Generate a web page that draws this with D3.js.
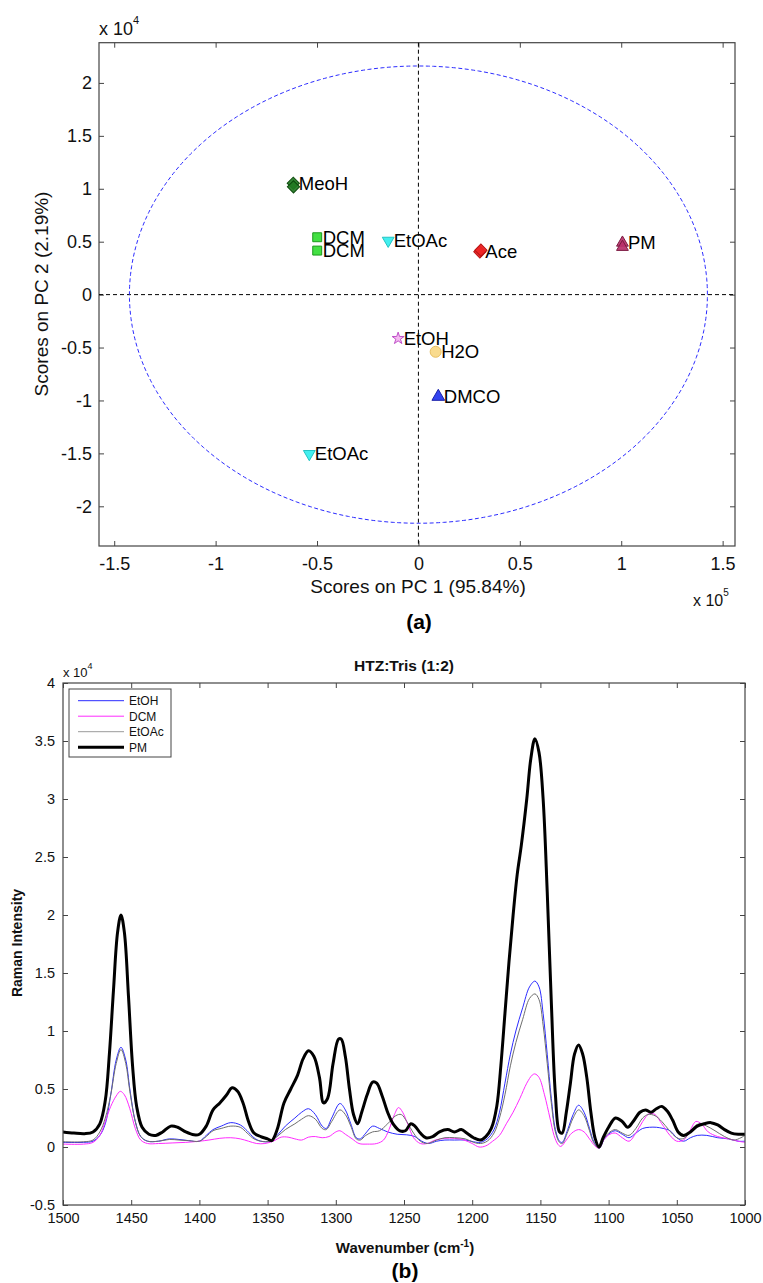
<!DOCTYPE html>
<html>
<head>
<meta charset="utf-8">
<script src="https://cdn.jsdelivr.net/npm/d3@7"></script>
<style>
  html, body { margin: 0; padding: 0; background: #fff; }
  svg { display: block; font-family: "Liberation Sans", Arial, sans-serif; }
</style>
</head>
<body>
<svg id="fig" width="763" height="1283"></svg>
<script>
// ---------- (a) PCA score plot ----------
const sampleNames = ["MeoH", "MeoH", "DCM", "DCM", "EtOAc", "Ace", "Ace", "PM", "PM", "EtOH", "H2O", "DMCO", "EtOAc"];
const sampleLabelled = [true, false, true, true, true, true, false, true, false, true, true, true, true];
const pc1Scores = [-61700, -61600, -49900, -49900, -14900, 30300, 30800, 100600, 100600, -10000, 8500, 9800, -53800];
const pc2Scores = [10520, 10180, 5420, 4160, 5100, 4040, 4200, 4900, 4500, -4140, -5400, -9640, -15050];
const pc1Ticks = [-150000, -100000, -50000, 0, 50000, 100000, 150000];
const pc2Ticks = [-20000, -15000, -10000, -5000, 0, 5000, 10000, 15000, 20000];
const confidenceRadii = [142500, 21600]; // 95% limit ellipse semi-axes (PC1, PC2)

// ---------- (b) Raman spectra, intensity in units of 10^4 ----------
const wavenumberTicks = [1500, 1450, 1400, 1350, 1300, 1250, 1200, 1150, 1100, 1050, 1000];
const intensityTicks = [-0.5, 0, 0.5, 1, 1.5, 2, 2.5, 3, 3.5, 4];
const seriesNames = ["EtOH", "DCM", "EtOAc", "PM"];

const etohWave = [1500,1485,1478,1473,1469,1465,1461,1457.5,1454,1451,1447,1443,1438,1430,1422,1415,1408,1400,1395,1390,1384,1377,1370,1365,1360,1355,1348,1343,1337,1330,1325,1320,1315,1310,1307,1303,1297,1293,1289,1285,1282,1278,1273,1268,1262,1255,1248,1242,1237,1232,1226,1220,1213,1205,1199,1194,1189,1184,1180,1176,1172,1168,1163,1158,1154,1151,1148,1145,1142,1139,1136,1134,1130,1126,1122,1118,1114,1111,1107,1103,1099,1095,1090,1085,1080,1075,1070,1065,1060,1055,1050,1045,1040,1035,1028,1020,1012,1005,1000];
const etohInt = [0.04,0.04,0.05,0.1,0.2,0.45,0.75,0.86,0.75,0.5,0.22,0.09,0.05,0.05,0.07,0.065,0.055,0.05,0.1,0.15,0.18,0.21,0.19,0.14,0.08,0.05,0.05,0.1,0.18,0.25,0.3,0.33,0.28,0.18,0.16,0.25,0.375,0.32,0.2,0.08,0.07,0.12,0.18,0.16,0.13,0.11,0.105,0.09,0.05,0.03,0.05,0.06,0.06,0.06,0.045,0.04,0.07,0.15,0.3,0.55,0.8,1.0,1.2,1.38,1.43,1.38,1.15,0.8,0.42,0.15,0.05,0.04,0.15,0.28,0.36,0.3,0.16,0.05,-0.01,0.07,0.12,0.14,0.11,0.08,0.12,0.16,0.17,0.17,0.16,0.14,0.08,0.05,0.08,0.1,0.1,0.08,0.07,0.05,0.05];

const dcmWave = [1500,1485,1478,1473,1469,1465,1461,1458,1455,1451,1447,1443,1438,1430,1420,1410,1400,1393,1385,1377,1370,1364,1358,1352,1346,1340,1335,1330,1325,1320,1315,1310,1305,1300,1297,1293,1288,1283,1277,1270,1265,1261,1257,1254,1251,1247,1243,1238,1233,1227,1220,1213,1206,1200,1195,1190,1185,1180,1175,1170,1165,1160,1156,1154,1151,1147,1143,1140,1137,1135,1131,1127,1122,1118,1114,1110,1107,1103,1099,1095,1090,1085,1080,1075,1070,1066,1061,1055,1050,1045,1040,1036,1032,1027,1020,1012,1005,1000];
const dcmInt = [0.025,0.025,0.04,0.1,0.22,0.35,0.44,0.48,0.45,0.33,0.16,0.06,0.03,0.03,0.035,0.04,0.05,0.06,0.075,0.08,0.07,0.05,0.03,0.03,0.05,0.085,0.085,0.07,0.06,0.085,0.09,0.08,0.09,0.13,0.14,0.11,0.07,0.03,0.025,0.03,0.06,0.15,0.28,0.34,0.3,0.19,0.08,0.03,0.03,0.06,0.075,0.075,0.06,0.03,0.0,0.01,0.05,0.1,0.2,0.3,0.42,0.55,0.62,0.63,0.6,0.45,0.25,0.1,0.02,0.005,0.06,0.12,0.15,0.13,0.07,0.01,-0.01,0.07,0.11,0.12,0.08,0.05,0.12,0.22,0.29,0.28,0.2,0.1,0.05,0.06,0.15,0.22,0.2,0.13,0.09,0.07,0.05,0.04];

const etoacWave = [1500,1485,1478,1473,1469,1465,1461,1457.5,1454,1451,1447,1443,1438,1430,1422,1415,1408,1400,1395,1390,1384,1377,1370,1365,1360,1355,1348,1343,1337,1330,1325,1320,1315,1310,1307,1303,1297,1293,1289,1285,1282,1278,1273,1268,1262,1256,1252,1248,1243,1238,1233,1226,1220,1213,1205,1199,1194,1189,1184,1180,1176,1172,1168,1163,1158,1154,1151,1148,1145,1142,1139,1136,1134,1130,1126,1122,1118,1114,1111,1107,1103,1099,1095,1090,1085,1080,1075,1071,1066,1061,1056,1050,1046,1042,1037,1033,1028,1022,1015,1008,1003,1000];
const etoacInt = [0.045,0.045,0.06,0.13,0.25,0.45,0.72,0.84,0.72,0.48,0.22,0.09,0.05,0.05,0.065,0.06,0.055,0.05,0.09,0.14,0.16,0.18,0.17,0.12,0.07,0.05,0.05,0.09,0.15,0.2,0.24,0.27,0.24,0.16,0.15,0.22,0.32,0.28,0.18,0.07,0.06,0.1,0.13,0.14,0.2,0.27,0.28,0.22,0.12,0.05,0.03,0.06,0.08,0.08,0.07,0.04,0.03,0.05,0.12,0.25,0.45,0.7,0.9,1.1,1.28,1.32,1.27,1.05,0.72,0.38,0.13,0.04,0.03,0.13,0.25,0.32,0.27,0.14,0.04,-0.01,0.08,0.13,0.15,0.12,0.1,0.16,0.25,0.28,0.27,0.22,0.15,0.08,0.07,0.1,0.18,0.2,0.18,0.14,0.09,0.06,0.08,0.1];

const pmWave = [1500,1492,1484,1478,1473,1469,1466,1463,1460,1457.5,1455,1452,1449,1446,1442,1437,1432,1427,1421,1416,1410,1404,1400,1395,1390,1385,1380,1376,1372,1368,1364,1360,1355,1350,1347,1343,1338,1333,1328,1324,1320,1316,1312,1309,1306,1302,1298,1296,1293,1290,1287,1284,1281,1277,1273,1270,1266,1262,1258,1253,1249,1245,1242,1238,1234,1229,1224,1218,1213,1208,1204,1199,1194,1190,1186,1182,1179,1176,1173,1170,1167,1164,1160,1157,1154,1151,1148,1145,1142,1139,1136,1134,1131,1128,1125,1122,1119,1116,1113,1110,1107,1104,1100,1095,1090,1086,1082,1077,1073,1069,1065,1061,1057,1053,1049,1045,1040,1035,1030,1025,1020,1015,1010,1005,1000];
const pmInt = [0.13,0.12,0.115,0.13,0.2,0.4,0.8,1.35,1.85,2.0,1.85,1.3,0.7,0.35,0.17,0.11,0.1,0.13,0.18,0.17,0.13,0.105,0.11,0.18,0.32,0.38,0.45,0.51,0.48,0.38,0.22,0.12,0.09,0.07,0.055,0.15,0.38,0.5,0.62,0.76,0.83,0.78,0.6,0.38,0.42,0.72,0.93,0.93,0.78,0.5,0.28,0.2,0.3,0.45,0.56,0.55,0.44,0.3,0.2,0.14,0.14,0.2,0.18,0.12,0.08,0.09,0.13,0.15,0.13,0.15,0.12,0.08,0.06,0.09,0.16,0.35,0.7,1.15,1.6,2.0,2.35,2.6,3.0,3.35,3.52,3.4,3.0,2.2,1.25,0.45,0.13,0.12,0.3,0.55,0.8,0.88,0.8,0.6,0.3,0.08,0.0,0.08,0.17,0.25,0.22,0.17,0.22,0.3,0.32,0.3,0.33,0.35,0.31,0.23,0.13,0.1,0.13,0.18,0.2,0.21,0.19,0.15,0.12,0.11,0.11];

const svg = d3.select("#fig");
const axisColor = "#444";
const tickFmt = (div) => (v) => String(+(v / div).toFixed(2));

// ================= Panel (a) =================
(function drawScores() {
  const L = 99, R = 735, T = 42.7, B = 546;
  const x = d3.scaleLinear().domain([-157500, 156100]).range([L, R]);
  const y = d3.scaleLinear().domain([-23750, 23800]).range([B, T]);
  const g = svg.append("g");

  // axes box
  g.append("rect").attr("x", L).attr("y", T).attr("width", R - L).attr("height", B - T)
    .attr("fill", "none").attr("stroke", axisColor).attr("stroke-width", 1.2);

  const styleAxis = (sel, size) => {
    sel.select(".domain").remove();
    sel.selectAll(".tick line").attr("stroke", axisColor);
    sel.selectAll(".tick text").attr("fill", "#111").style("font-size", size + "px")
      .style("font-family", "'Liberation Sans', Arial, sans-serif");
  };
  g.append("g").attr("transform", `translate(0,${B})`)
    .call(d3.axisBottom(x).tickValues(pc1Ticks).tickFormat(tickFmt(1e5)).tickSize(-5).tickPadding(11))
    .call(s => styleAxis(s, 18));
  g.append("g").attr("transform", `translate(0,${T})`)
    .call(d3.axisTop(x).tickValues(pc1Ticks).tickFormat("").tickSize(-5))
    .call(s => styleAxis(s, 18));
  g.append("g").attr("transform", `translate(${L},0)`)
    .call(d3.axisLeft(y).tickValues(pc2Ticks).tickFormat(tickFmt(1e4)).tickSize(-5).tickPadding(7))
    .call(s => styleAxis(s, 18));
  g.append("g").attr("transform", `translate(${R},0)`)
    .call(d3.axisRight(y).tickValues(pc2Ticks).tickFormat("").tickSize(-5))
    .call(s => styleAxis(s, 18));

  // zero cross-hairs
  g.append("line").attr("x1", x(0)).attr("x2", x(0)).attr("y1", T).attr("y2", B)
    .attr("stroke", "#000").attr("stroke-width", 1).attr("stroke-dasharray", "4,3");
  g.append("line").attr("x1", L).attr("x2", R).attr("y1", y(0)).attr("y2", y(0))
    .attr("stroke", "#000").attr("stroke-width", 1).attr("stroke-dasharray", "4,3");

  // confidence ellipse
  const angles = d3.range(0, 2 * Math.PI + 0.001, Math.PI / 180);
  g.append("path")
    .attr("d", d3.line()
      .x(a => x(confidenceRadii[0] * Math.cos(a)))
      .y(a => y(confidenceRadii[1] * Math.sin(a)))(angles))
    .attr("fill", "none").attr("stroke", "#2b2bff").attr("stroke-width", 1)
    .attr("stroke-dasharray", "4,2.5");

  // marker styles per sample
  const markerStyle = {
    MeoH:  { type: "diamond", size: 75, fill: "#217a21", stroke: "#0d4a0d" },
    DCM:   { type: "square", size: 80, fill: "#33dd33", stroke: "#1c9a1c" },
    EtOAc: { type: "down", size: 60, fill: "#33eeee", stroke: "#22c4c4" },
    Ace:   { type: "diamond", size: 75, fill: "#ee2424", stroke: "#b81414" },
    PM:    { type: "up", size: 60, fill: "#b8306a", stroke: "#7a1a40" },
    EtOH:  { type: "star", size: 45, fill: "#f3b4f0", stroke: "#c050c8" },
    H2O:   { type: "circle", size: 95, fill: "#f8d884", stroke: "#e8bf62" },
    DMCO:  { type: "up", size: 70, fill: "#2233ee", stroke: "#1a22aa" }
  };
  const symbolPath = (st) => {
    const t = { diamond: d3.symbolSquare, square: d3.symbolSquare, down: d3.symbolTriangle,
                up: d3.symbolTriangle, star: d3.symbolStar, circle: d3.symbolCircle }[st.type];
    return d3.symbol().type(t).size(st.size)();
  };
  const rot = (st) => st.type === "diamond" ? 45 : st.type === "down" ? 180 : 0;

  const idx = d3.range(sampleNames.length);
  g.append("g").selectAll("path").data(idx).join("path")
    .attr("d", i => symbolPath(markerStyle[sampleNames[i]]))
    .attr("transform", i => `translate(${x(pc1Scores[i])},${y(pc2Scores[i])}) rotate(${rot(markerStyle[sampleNames[i]])})`)
    .attr("fill", i => markerStyle[sampleNames[i]].fill)
    .attr("fill-opacity", 0.92)
    .attr("stroke", i => markerStyle[sampleNames[i]].stroke)
    .attr("stroke-width", 1);

  g.append("g").selectAll("text").data(idx.filter(i => sampleLabelled[i])).join("text")
    .attr("x", i => x(pc1Scores[i]) + 5.5)
    .attr("y", i => y(pc2Scores[i]) + 6.5)
    .attr("font-size", 18.5).attr("fill", "#000")
    .text(i => sampleNames[i]);

  // axis titles and exponent labels
  g.append("text").attr("x", 418).attr("y", 593).attr("text-anchor", "middle")
    .attr("font-size", 19).attr("fill", "#111").text("Scores on PC 1 (95.84%)");
  g.append("text").attr("transform", "translate(48,294) rotate(-90)").attr("text-anchor", "middle")
    .attr("font-size", 19).attr("fill", "#111").text("Scores on PC 2 (2.19%)");

  const e4 = g.append("text").attr("x", L).attr("y", 35).attr("font-size", 18).attr("fill", "#111");
  e4.append("tspan").text("x 10");
  e4.append("tspan").attr("dy", -11).attr("font-size", 11).text("4");

  const e5 = g.append("text").attr("x", 693).attr("y", 606).attr("font-size", 16).attr("fill", "#111");
  e5.append("tspan").text("x 10");
  e5.append("tspan").attr("dy", -10).attr("font-size", 10).text("5");

  g.append("text").attr("x", 419).attr("y", 629).attr("text-anchor", "middle")
    .attr("font-size", 21).attr("font-weight", "bold").attr("fill", "#000").text("(a)");
})();

// ================= Panel (b) =================
(function drawSpectra() {
  const L = 63, R = 745, T = 683, B = 1205;
  const x = d3.scaleLinear().domain([1500, 1000]).range([L, R]);
  const y = d3.scaleLinear().domain([-0.5, 4]).range([B, T]);
  const g = svg.append("g");

  svg.append("clipPath").attr("id", "plotClip")
    .append("rect").attr("x", L).attr("y", T).attr("width", R - L).attr("height", B - T);

  const styleAxis = (sel, size) => {
    sel.select(".domain").remove();
    sel.selectAll(".tick line").attr("stroke", axisColor);
    sel.selectAll(".tick text").attr("fill", "#111").style("font-size", size + "px")
      .style("font-family", "'Liberation Sans', Arial, sans-serif");
  };
  g.append("g").attr("transform", `translate(0,${B})`)
    .call(d3.axisBottom(x).tickValues(wavenumberTicks).tickFormat(d3.format("d")).tickSize(-5).tickPadding(8))
    .call(s => styleAxis(s, 14.5));
  g.append("g").attr("transform", `translate(0,${T})`)
    .call(d3.axisTop(x).tickValues(wavenumberTicks).tickFormat("").tickSize(-5))
    .call(s => styleAxis(s, 14.5));
  g.append("g").attr("transform", `translate(${L},0)`)
    .call(d3.axisLeft(y).tickValues(intensityTicks).tickFormat(v => String(v)).tickSize(-5).tickPadding(8))
    .call(s => styleAxis(s, 14.5));
  g.append("g").attr("transform", `translate(${R},0)`)
    .call(d3.axisRight(y).tickValues(intensityTicks).tickFormat("").tickSize(-5))
    .call(s => styleAxis(s, 14.5));

  const series = [
    { name: "EtOH", wave: etohWave, val: etohInt, color: "#2b2bff", width: 1 },
    { name: "DCM", wave: dcmWave, val: dcmInt, color: "#ff2bff", width: 1 },
    { name: "EtOAc", wave: etoacWave, val: etoacInt, color: "#6e6e6e", width: 1 },
    { name: "PM", wave: pmWave, val: pmInt, color: "#000000", width: 3 }
  ];
  const line = d3.line().curve(d3.curveCatmullRom.alpha(0.5));
  const plot = g.append("g").attr("clip-path", "url(#plotClip)");
  series.forEach(s => {
    plot.append("path")
      .attr("d", line(s.wave.map((w, i) => [x(w), y(s.val[i])])))
      .attr("fill", "none").attr("stroke", s.color).attr("stroke-width", s.width)
      .attr("stroke-linejoin", "round");
  });

  // box
  g.append("rect").attr("x", L).attr("y", T).attr("width", R - L).attr("height", B - T)
    .attr("fill", "none").attr("stroke", axisColor).attr("stroke-width", 1.2);

  // legend
  const lg = g.append("g");
  lg.append("rect").attr("x", 69).attr("y", 689).attr("width", 102).attr("height", 68)
    .attr("fill", "#fff").attr("stroke", axisColor).attr("stroke-width", 1);
  const legendColors = { EtOH: "#2b2bff", DCM: "#ff2bff", EtOAc: "#9a9a9a", PM: "#000" };
  seriesNames.forEach((n, i) => {
    const yy = 700.7 + i * 15.5;
    lg.append("line").attr("x1", 78).attr("x2", 124).attr("y1", yy).attr("y2", yy)
      .attr("stroke", legendColors[n]).attr("stroke-width", n === "PM" ? 3 : 1);
    lg.append("text").attr("x", 129).attr("y", yy + 4.3).attr("font-size", 12)
      .attr("fill", "#111").text(n);
  });

  // titles
  g.append("text").attr("x", 404).attr("y", 671).attr("text-anchor", "middle")
    .attr("font-size", 15.5).attr("font-weight", "bold").attr("fill", "#111").text("HTZ:Tris (1:2)");
  const xl = g.append("text").attr("x", 405).attr("y", 1253).attr("text-anchor", "middle")
    .attr("font-size", 15).attr("font-weight", "bold").attr("fill", "#111");
  xl.append("tspan").text("Wavenumber (cm");
  xl.append("tspan").attr("dy", -6).attr("font-size", 10).text("-1");
  xl.append("tspan").attr("dy", 6).text(")");
  g.append("text").attr("transform", "translate(22,943) rotate(-90)").attr("text-anchor", "middle")
    .attr("font-size", 14).attr("font-weight", "bold").attr("fill", "#111").text("Raman Intensity");

  const e4 = g.append("text").attr("x", L).attr("y", 677).attr("font-size", 13).attr("fill", "#111");
  e4.append("tspan").text("x 10");
  e4.append("tspan").attr("dy", -8).attr("font-size", 9).text("4");

  g.append("text").attr("x", 405).attr("y", 1278).attr("text-anchor", "middle")
    .attr("font-size", 21).attr("font-weight", "bold").attr("fill", "#000").text("(b)");
})();
</script>
</body>
</html>
